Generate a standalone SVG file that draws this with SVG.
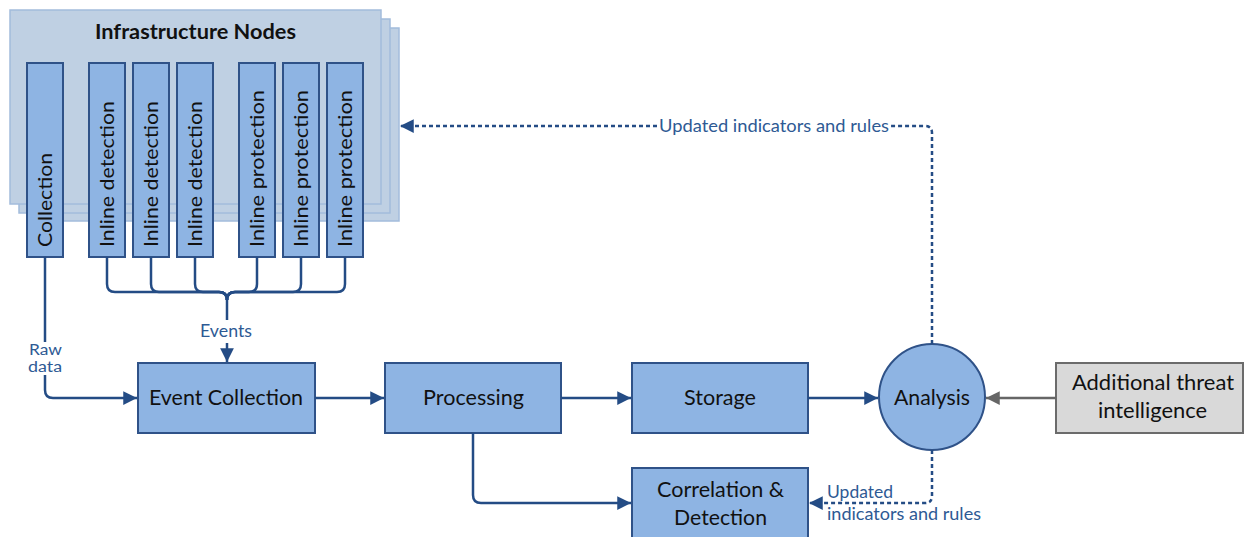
<svg xmlns="http://www.w3.org/2000/svg" width="1244" height="537" viewBox="0 0 1244 537">
  <defs>
    <style>
      .panel { fill: #bfd0e3; stroke: #a3bcdc; stroke-width: 1.5; }
      .col { fill: #8eb4e3; stroke: #2f5288; stroke-width: 2; }
      .box { fill: #8eb4e3; stroke: #2f5288; stroke-width: 2; }
      .ext { fill: #d9d9d9; stroke: #6b6b6b; stroke-width: 2; }
      .t { font-family: Lato, "Open Sans", sans-serif; font-size: 21.5px; fill: #111; }
      .coltxt { font-family: Lato, "Open Sans", sans-serif; font-size: 20px; fill: #111; }
      .lbl { font-family: Lato, "Open Sans", sans-serif; font-size: 16.5px; fill: #2e5a94; }
      .lbl-sm { font-family: Lato, "Open Sans", sans-serif; font-size: 14.5px; fill: #2e5a94; }
      .ln { fill: none; stroke: #244c85; stroke-width: 2.5; }
      .dash { fill: none; stroke: #244c85; stroke-width: 2.5; stroke-dasharray: 4 3; }
      .gray { fill: none; stroke: #666; stroke-width: 2.5; }
    </style>
    <marker id="arr" viewBox="0 0 10 10" refX="10" refY="5" markerWidth="5.5" markerHeight="5.5" orient="auto" markerUnits="strokeWidth">
      <path d="M0,0 L10,5 L0,10 z" fill="#244c85"/>
    </marker>
    <marker id="arrg" viewBox="0 0 10 10" refX="10" refY="5" markerWidth="5.5" markerHeight="5.5" orient="auto" markerUnits="strokeWidth">
      <path d="M0,0 L10,5 L0,10 z" fill="#666"/>
    </marker>
  </defs>

  <rect width="1244" height="537" fill="#fff"/>

  <!-- stacked infrastructure panels -->
  <g id="infrastructure">
    <rect class="panel" x="28" y="28" width="371" height="193"/>
    <rect class="panel" x="19" y="19" width="371" height="194"/>
    <rect class="panel" x="10" y="10" width="371" height="194"/>
    <text class="t" x="95" y="39" font-size="21" font-weight="bold" textLength="201" lengthAdjust="spacingAndGlyphs">Infrastructure Nodes</text>
  </g>

  <g id="node-collection">
    <rect class="col" x="27" y="63" width="36" height="194"/>
    <text class="coltxt" transform="translate(52,247) rotate(-90)" textLength="94" lengthAdjust="spacingAndGlyphs">Collection</text>
  </g>
  <g id="node-detection-1">
    <rect class="col" x="89" y="63" width="36" height="194"/>
    <text class="coltxt" transform="translate(114,247) rotate(-90)" textLength="146" lengthAdjust="spacingAndGlyphs">Inline detection</text>
  </g>
  <g id="node-detection-2">
    <rect class="col" x="133" y="63" width="36" height="194"/>
    <text class="coltxt" transform="translate(158,247) rotate(-90)" textLength="146" lengthAdjust="spacingAndGlyphs">Inline detection</text>
  </g>
  <g id="node-detection-3">
    <rect class="col" x="177" y="63" width="36" height="194"/>
    <text class="coltxt" transform="translate(202,247) rotate(-90)" textLength="146" lengthAdjust="spacingAndGlyphs">Inline detection</text>
  </g>
  <g id="node-protection-1">
    <rect class="col" x="239" y="63" width="36" height="194"/>
    <text class="coltxt" transform="translate(264,247) rotate(-90)" textLength="157" lengthAdjust="spacingAndGlyphs">Inline protection</text>
  </g>
  <g id="node-protection-2">
    <rect class="col" x="283" y="63" width="36" height="194"/>
    <text class="coltxt" transform="translate(308,247) rotate(-90)" textLength="157" lengthAdjust="spacingAndGlyphs">Inline protection</text>
  </g>
  <g id="node-protection-3">
    <rect class="col" x="327" y="63" width="36" height="194"/>
    <text class="coltxt" transform="translate(352,247) rotate(-90)" textLength="157" lengthAdjust="spacingAndGlyphs">Inline protection</text>
  </g>

  <!-- pipeline nodes -->
  <g id="node-event-collection">
    <rect class="box" x="138" y="363" width="177" height="70"/>
    <text class="t" x="149" y="405" textLength="154" lengthAdjust="spacingAndGlyphs">Event Collection</text>
  </g>
  <g id="node-processing">
    <rect class="box" x="385" y="363" width="176" height="70"/>
    <text class="t" x="423" y="405" textLength="101" lengthAdjust="spacingAndGlyphs">Processing</text>
  </g>
  <g id="node-storage">
    <rect class="box" x="632" y="363" width="176" height="70"/>
    <text class="t" x="684" y="405" textLength="72" lengthAdjust="spacingAndGlyphs">Storage</text>
  </g>
  <g id="node-analysis">
    <circle class="box" cx="932" cy="397" r="53"/>
    <text class="t" x="894" y="405" textLength="76" lengthAdjust="spacingAndGlyphs">Analysis</text>
  </g>
  <g id="node-threat-intel">
    <rect class="ext" x="1056" y="363" width="187" height="70"/>
    <text class="t" x="1072" y="390" textLength="162" lengthAdjust="spacingAndGlyphs">Additional threat</text>
    <text class="t" x="1098" y="418" textLength="109" lengthAdjust="spacingAndGlyphs">intelligence</text>
  </g>
  <g id="node-correlation">
    <rect class="box" x="632" y="468" width="176" height="75"/>
    <text class="t" x="657" y="497" textLength="127" lengthAdjust="spacingAndGlyphs">Correlation &amp;</text>
    <text class="t" x="674" y="525" textLength="93" lengthAdjust="spacingAndGlyphs">Detection</text>
  </g>

  <!-- connectors -->
  <g id="connectors">
    <!-- event bus from inline nodes -->
    <path class="ln" d="M107,257 V284 Q107,292 115,292 H219 Q227,292 227,300"/>
    <path class="ln" d="M151,257 V284 Q151,292 159,292 H219 Q227,292 227,300"/>
    <path class="ln" d="M195,257 V284 Q195,292 203,292 H219 Q227,292 227,300"/>
    <path class="ln" d="M257,257 V284 Q257,292 249,292 H235 Q227,292 227,300"/>
    <path class="ln" d="M301,257 V284 Q301,292 293,292 H235 Q227,292 227,300"/>
    <path class="ln" d="M345,257 V284 Q345,292 337,292 H235 Q227,292 227,300"/>
    <path class="ln" d="M227,300 V320"/>
    <text class="lbl" x="200" y="337" textLength="52" lengthAdjust="spacingAndGlyphs">Events</text>
    <path class="ln" d="M227,343 V362" marker-end="url(#arr)"/>

    <!-- raw data from collection -->
    <path class="ln" d="M45,257 V342"/>
    <text class="lbl-sm" x="29" y="355" textLength="33" lengthAdjust="spacingAndGlyphs">Raw</text>
    <text class="lbl-sm" x="28" y="372" textLength="34" lengthAdjust="spacingAndGlyphs">data</text>
    <path class="ln" d="M45,375 V390 Q45,398 53,398 H137" marker-end="url(#arr)"/>

    <!-- main pipeline -->
    <path class="ln" d="M315,398 H384" marker-end="url(#arr)"/>
    <path class="ln" d="M561,398 H631" marker-end="url(#arr)"/>
    <path class="ln" d="M808,398 H878" marker-end="url(#arr)"/>
    <path class="ln" d="M473,433 V495 Q473,503 481,503 H631" marker-end="url(#arr)"/>
    <path class="gray" d="M1056,398 H986" marker-end="url(#arrg)"/>

    <!-- feedback of updated indicators -->
    <path class="dash" d="M932,344 V133 Q932,126 925,126 H891"/>
    <text class="lbl" x="659" y="132" textLength="230" lengthAdjust="spacingAndGlyphs">Updated indicators and rules</text>
    <path class="dash" d="M657,126 H400" marker-end="url(#arr)"/>
    <path class="dash" d="M932,450 V496 Q932,503 925,503 H809" marker-end="url(#arr)"/>
    <text class="lbl" x="827" y="498" textLength="66" lengthAdjust="spacingAndGlyphs">Updated</text>
    <text class="lbl" x="827" y="520" textLength="154" lengthAdjust="spacingAndGlyphs">indicators and rules</text>
  </g>
</svg>
